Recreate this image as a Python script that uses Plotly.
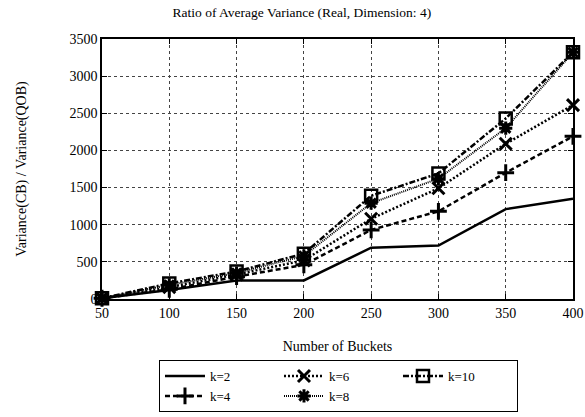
import plotly.graph_objects as go

buckets = [50, 100, 150, 200, 250, 300, 350, 400]
k2 = [10, 120, 250, 250, 690, 720, 1210, 1350]
k4 = [10, 130, 300, 460, 930, 1180, 1700, 2190]
k6 = [10, 160, 330, 520, 1080, 1490, 2090, 2610]
k8 = [10, 190, 350, 580, 1290, 1620, 2300, 3320]
k10 = [10, 210, 370, 610, 1390, 1690, 2430, 3320]

series = [
    ("k=2", k2, dict(dash="solid", width=2.5), None, 1),
    ("k=6", k6, dict(dash="2px,2px", width=2.5), dict(symbol="x-thin-open", size=12, line=dict(width=3, color="black")), 2),
    ("k=10", k10, dict(dash="6px,2px,2px,2px", width=2.5), dict(symbol="square-open", size=12, line=dict(width=2.5, color="black")), 3),
    ("k=4", k4, dict(dash="5px,3px", width=2.5), dict(symbol="cross-thin-open", size=12, line=dict(width=3, color="black")), 4),
    ("k=8", k8, dict(dash="1px,1px", width=2), dict(symbol="asterisk-open", size=11, line=dict(width=3, color="black")), 5),
]

fig = go.Figure()
for name, vals, ln, mk, rank in series:
    tr = dict(x=buckets, y=vals, name=name, legendrank=rank, cliponaxis=False,
              line=dict(color="black", **ln))
    if mk is None:
        tr["mode"] = "lines"
    else:
        tr["mode"] = "lines+markers"
        tr["marker"] = dict(color="black", **mk)
    fig.add_trace(go.Scatter(**tr))

font_family = "Liberation Serif"
fig.update_layout(
    width=585, height=417,
    margin=dict(l=102, r=12, t=39, b=118, autoexpand=False),
    paper_bgcolor="white", plot_bgcolor="white",
    font=dict(family=font_family, size=14, color="black"),
    title=dict(text="Ratio of Average Variance (Real, Dimension: 4)", x=0.516, xanchor="center",
               y=1 - 12 / 417, yanchor="middle", font=dict(size=13.5, family=font_family)),
    showlegend=True,
    legend=dict(orientation="h", x=0.121, xanchor="left", y=-0.435, yanchor="bottom",
                bordercolor="black", borderwidth=1, bgcolor="white",
                entrywidth=64, entrywidthmode="pixels", tracegroupgap=0,
                valign="middle",
                font=dict(size=13, family=font_family), itemwidth=40),
)
axis_common = dict(showgrid=True, gridcolor="#444", griddash="dot", gridwidth=1,
                   showline=True, linecolor="black", linewidth=1.5,
                   mirror="ticks", ticks="inside", ticklen=5, tickcolor="black",
                   zeroline=False, tickfont=dict(family=font_family, size=14))
fig.update_xaxes(range=[50, 400], tickvals=buckets, automargin=False,
                 title=dict(text="Number of Buckets", standoff=22,
                            font=dict(family=font_family, size=14)), **axis_common)
fig.update_yaxes(range=[0, 3500], dtick=500, automargin=False,
                 title=dict(text="Variance(CB) / Variance(QOB)", standoff=40,
                            font=dict(family=font_family, size=14)), **axis_common)

fig.write_html("out.html")
